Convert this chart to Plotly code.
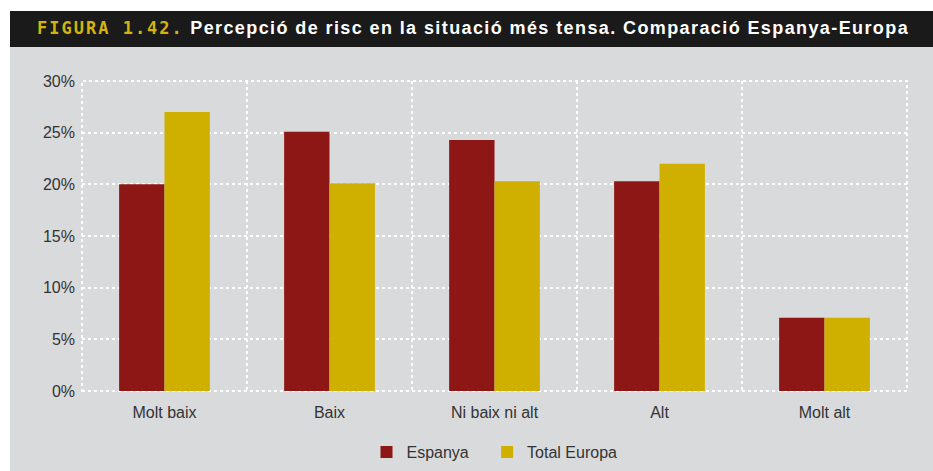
import plotly.graph_objects as go

categories = ["Molt baix", "Baix", "Ni baix ni alt", "Alt", "Molt alt"]
espanya = [20.0, 25.1, 24.3, 20.3, 7.1]
europa = [27.0, 20.1, 20.3, 22.0, 7.1]
y_ticks = [0, 5, 10, 15, 20, 25, 30]
y_labels = [f"{v}%" for v in y_ticks]

RED = "#8c1714"
GOLD = "#cfb000"
PANEL = "#d9dadc"
TEXT = "#333333"

# plot area in pixels: x 82..907, y 81..391
PW, PH = 825, 310

fig = go.Figure()
# non-breaking spaces widen the gap between the two legend entries
fig.add_trace(go.Bar(name="Espanya\u00a0\u00a0\u00a0", x=categories, y=espanya,
                     marker_color=RED, marker_line_width=0))
fig.add_trace(go.Bar(name="Total Europa", x=categories, y=europa, marker_color=GOLD,
                     marker_line_width=0))

fig.update_layout(
    width=933, height=471,
    margin=dict(l=82, r=26, t=81, b=80, autoexpand=False),
    paper_bgcolor="white",
    plot_bgcolor=PANEL,
    barmode="group", bargap=0.45, bargroupgap=0,
    font=dict(family="Liberation Sans, Arial, sans-serif", size=16, color=TEXT),
    showlegend=True,
    legend=dict(orientation="h", x=0.5, xanchor="center", y=-61 / PH, yanchor="middle",
                font=dict(size=16, color=TEXT), itemwidth=30,
                bgcolor="rgba(0,0,0,0)"),
    shapes=[
        # grey panel behind the chart
        dict(type="rect", xref="paper", yref="paper", layer="below",
             x0=-72 / PW, x1=1 + 26 / PW, y0=-80 / PH, y1=1 + 34 / PH,
             fillcolor=PANEL, line_width=0),
        # black title bar
        dict(type="rect", xref="paper", yref="paper", layer="below",
             x0=-72 / PW, x1=1 + 26 / PW, y0=1 + 34 / PH, y1=1 + 70 / PH,
             fillcolor="#1a1a1a", line_width=0),
        # dotted frame around the plot area
        dict(type="rect", xref="paper", yref="paper", layer="below",
             x0=0, x1=1, y0=0, y1=1, fillcolor="rgba(0,0,0,0)",
             line=dict(color="white", width=2, dash="dot")),
    ],
    annotations=[
        dict(xref="paper", yref="paper", x=-47 / PW, y=1 + 53 / PH,
             xanchor="left", yanchor="middle", showarrow=False,
             text="<span style='font-family:DejaVu Sans Mono;font-size:17px;"
                  "letter-spacing:2px;color:#d6b30c'>FIGURA 1.42.</span>"
                  "<span style='letter-spacing:1.4px'> Percepció de risc en la situació "
                  "més tensa. Comparació Espanya-Europa</span>",
             font=dict(family="Liberation Sans, Arial, sans-serif", size=18,
                       color="white", weight="bold")),
    ],
)

fig.update_xaxes(type="category", tickson="boundaries", showgrid=True,
                 gridcolor="white", griddash="dot", gridwidth=2,
                 ticks="", showline=False, zeroline=False,
                 tickfont=dict(size=16, color=TEXT), range=[-0.5, 4.5],
                 ticklabelstandoff=10)
fig.update_yaxes(range=[0, 30], tickvals=y_ticks, ticktext=y_labels,
                 showgrid=True, gridcolor="white", griddash="dot", gridwidth=2,
                 zeroline=False, showline=False, ticks="",
                 tickfont=dict(size=16, color=TEXT), ticklabelstandoff=6)

fig.write_html("out.html")
